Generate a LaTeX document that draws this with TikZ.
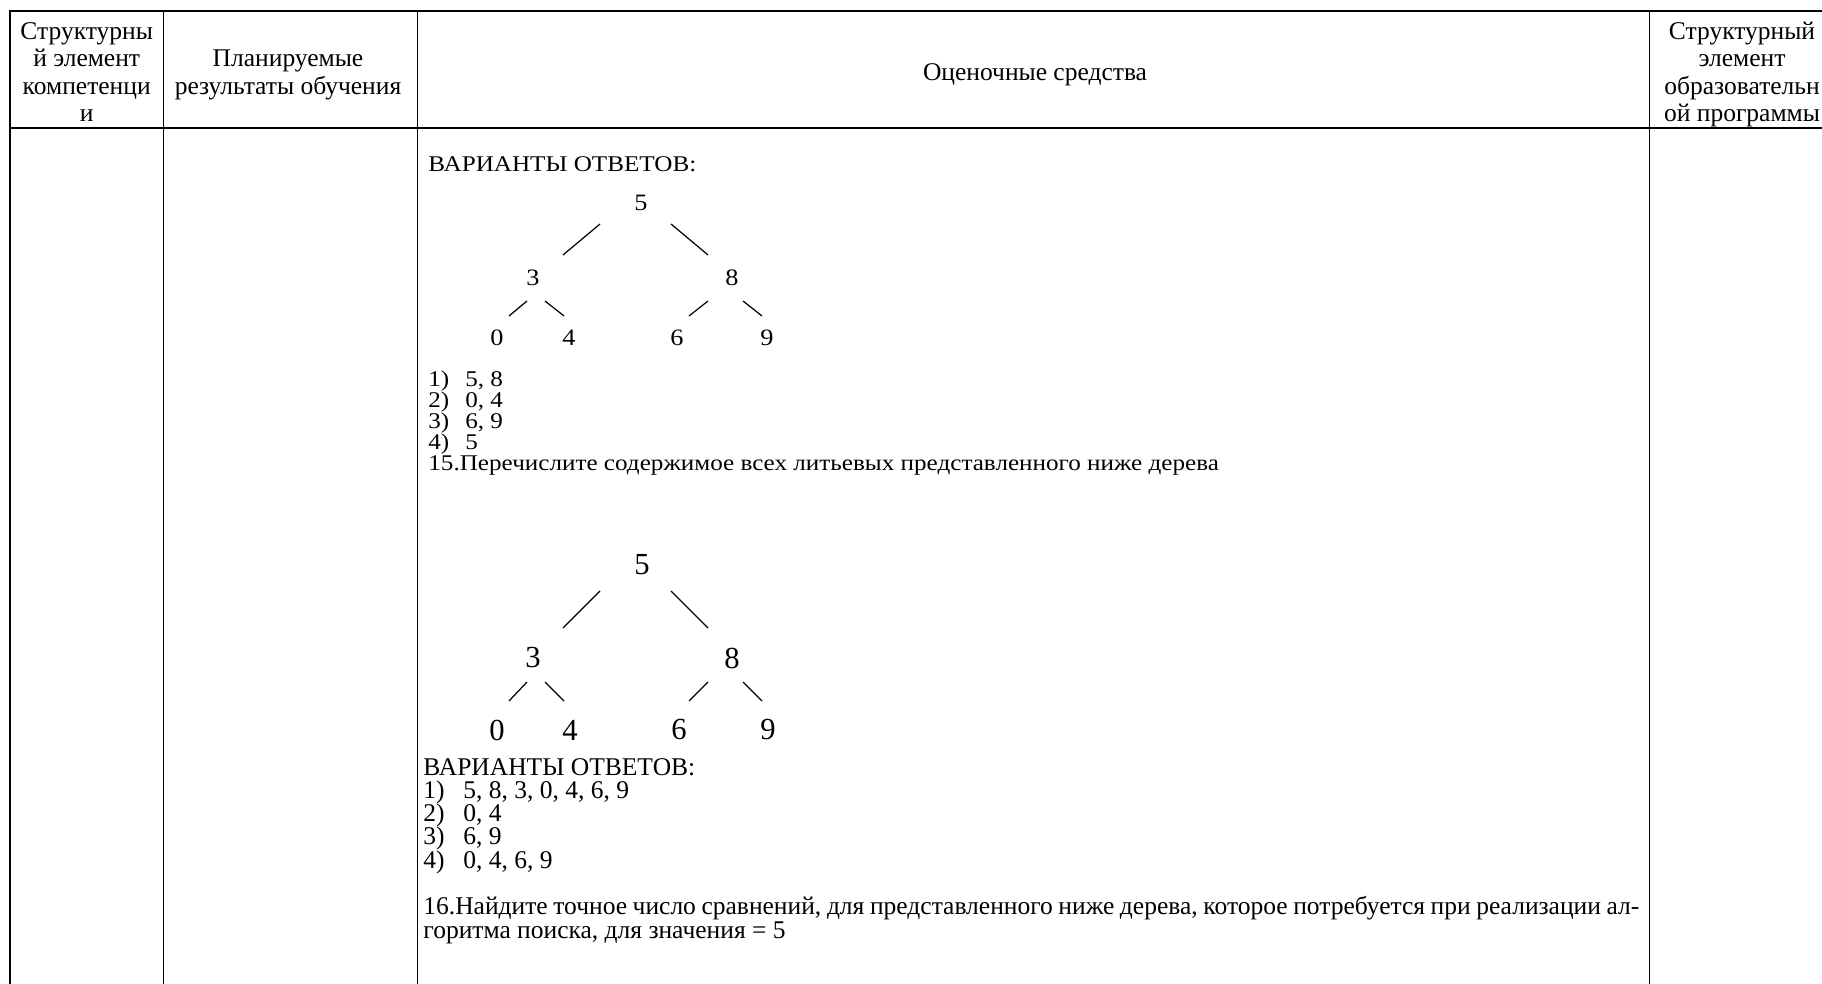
\documentclass[tikz,border=0pt]{standalone}
\usepackage{fontspec}
\setmainfont{Liberation Serif}
\newfontfamily\shotfont[FakeStretch=1.12]{Liberation Serif}
\usepackage{tikz}
\usetikzlibrary{positioning}

\begin{document}
\begin{tikzpicture}[
                x=0.49pt, y=-0.49pt,
                every node/.style={inner sep=0pt},
                rule/.style={line width=0.85pt},
                twig/.style={line width=0.6pt},
                head/.style={anchor=base, align=center, font=\fontsize{12.5}{13.4}\selectfont},
                bodytext/.style={anchor=base west, font=\fontsize{12.5}{14}\selectfont},
                shottext/.style={anchor=base west, font=\shotfont\fontsize{11}{13}\selectfont},
                key small/.style={font=\shotfont\fontsize{11.5}{13}\selectfont},
                key big/.style={font=\fontsize{15}{17}\selectfont},
              ]
              \fill[white] (0,0) rectangle (1822,984);
              \useasboundingbox (0,0) rectangle (1822,984);
              % table
              \draw[rule] (10,1000) |- (1860,10.7);
              \draw[rule] (10,127.7) -- (1860,127.7);
              \foreach \x in {163.5,417.5,1649.5}
                \draw[rule] (\x,10.7) -- (\x,1000);
              \node[head] (h1) at (86.7,121.4) {Структурны\\й элемент\\компетенци\\и};
              \node[head] (h2) at (288,94.1) {Планируемые\\результаты обучения};
              \node[head] (h3) at (1035,81) {Оценочные средства};
              \node[head] (h4) at (1742,121.4) {Структурный\\элемент\\образовательн\\ой программы};
              % first tree
              \node[shottext] (v1) at (428,172) {ВАРИАНТЫ ОТВЕТОВ:};
              \node[key small] (a5) at (641,203) {5};
              \node[key small] (a3) at (533,278) {3};
              \node[key small] (a8) at (732,278) {8};
              \node[key small] (a0) at (497,338) {0};
              \node[key small] (a4) at (569,338) {4};
              \node[key small] (a6) at (677,338) {6};
              \node[key small] (a9) at (767,338) {9};
              \draw[twig] ([shift={(-41,21)}]a5.center) -- ([shift={(30,-23)}]a3.center);
              \draw[twig] ([shift={(30,21)}]a5.center) -- ([shift={(-24,-23)}]a8.center);
              \draw[twig] ([shift={(-6,23)}]a3.center) -- ([shift={(12,-22)}]a0.center);
              \draw[twig] ([shift={(12,23)}]a3.center) -- ([shift={(-5,-22)}]a4.center);
              \draw[twig] ([shift={(-24,23)}]a8.center) -- ([shift={(12,-22)}]a6.center);
              \draw[twig] ([shift={(11,23)}]a8.center) -- ([shift={(-5,-22)}]a9.center);
              \node[shottext] (r1) at (428,387) {\makebox[18.1pt][l]{1)}5, 8};
              \node[shottext] (r2) at (428,407.9) {\makebox[18.1pt][l]{2)}0, 4};
              \node[shottext] (r3) at (428,428.8) {\makebox[18.1pt][l]{3)}6, 9};
              \node[shottext] (r4) at (428,449.7) {\makebox[18.1pt][l]{4)}5};
              \node[shottext] (q15) at (428,470.6) {15.Перечислите содержимое всех литьевых представленного ниже дерева};
              % second tree
              \node[key big] (b5) at (642,565) {5};
              \node[key big] (b3) at (533,658) {3};
              \node[key big] (b8) at (732,658) {8};
              \node[key big] (b0) at (497,730) {0};
              \node[key big] (b4) at (570,730) {4};
              \node[key big] (b6) at (679,730) {6};
              \node[key big] (b9) at (768,730) {9};
              \draw[twig] ([shift={(-42,26)}]b5.center) -- ([shift={(30,-30)}]b3.center);
              \draw[twig] ([shift={(29,26)}]b5.center) -- ([shift={(-24,-30)}]b8.center);
              \draw[twig] ([shift={(-6,24)}]b3.center) -- ([shift={(12,-29)}]b0.center);
              \draw[twig] ([shift={(12,24)}]b3.center) -- ([shift={(-6,-29)}]b4.center);
              \draw[twig] ([shift={(-24,24)}]b8.center) -- ([shift={(10,-29)}]b6.center);
              \draw[twig] ([shift={(11,24)}]b8.center) -- ([shift={(-6,-29)}]b9.center);
              \node[bodytext] (v2) at (423,775) {ВАРИАНТЫ ОТВЕТОВ:};
              \node[bodytext] (s1) at (423,798.3) {\makebox[19.6pt][l]{1)}5, 8, 3, 0, 4, 6, 9};
              \node[bodytext] (s2) at (423,821.6) {\makebox[19.6pt][l]{2)}0, 4};
              \node[bodytext] (s3) at (423,844.9) {\makebox[19.6pt][l]{3)}6, 9};
              \node[bodytext] (s4) at (423,868.2) {\makebox[19.6pt][l]{4)}0, 4, 6, 9};
              \node[bodytext] (q16) at (423,914.8) {\makebox[595.8pt][s]{16.Найдите точное число сравнений, для представленного ниже дерева, которое потребуется при реализации ал-}};
              \node[bodytext] (q16b) at (423,938.1) {горитма поиска, для значения = 5};
              \end{tikzpicture}
\end{document}
